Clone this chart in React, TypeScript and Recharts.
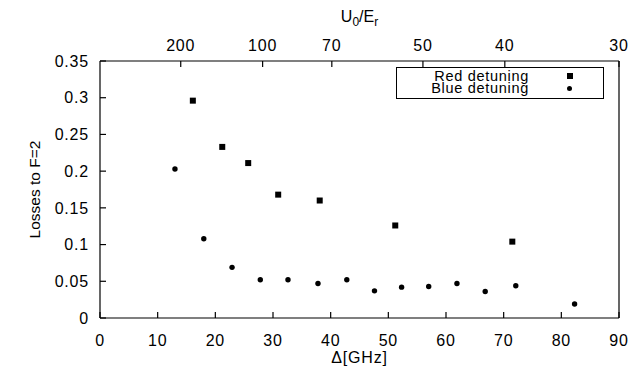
import { Label, Scatter, ScatterChart, XAxis, YAxis } from "recharts";

const redDelta = [16.1, 21.2, 25.7, 30.9, 38.1, 51.2, 71.5];
const redLoss = [0.296, 0.233, 0.211, 0.168, 0.16, 0.126, 0.104];

const blueDelta = [13.0, 18.0, 22.9, 27.8, 32.6, 37.8, 42.8, 47.6, 52.3, 57.0, 61.9, 66.8, 72.1, 82.3];
const blueLoss = [0.203, 0.108, 0.069, 0.052, 0.052, 0.047, 0.052, 0.037, 0.042, 0.043, 0.047, 0.036, 0.044, 0.019];

const xTicks = [0, 10, 20, 30, 40, 50, 60, 70, 80, 90];
const yTicks = [0, 0.05, 0.1, 0.15, 0.2, 0.25, 0.3, 0.35];
// top axis: U0/Er values placed at their detuning
const topTickDelta = [14, 28.2, 40.2, 56, 70.2, 90];
const topTickLabels = ["200", "100", "70", "50", "40", "30"];

const seriesNames = ["Red detuning", "Blue detuning"];

const red = redDelta.map((x, i) => ({ x, y: redLoss[i] }));
const blue = blueDelta.map((x, i) => ({ x, y: blueLoss[i] }));

const FONT = "'Liberation Sans', Arial, sans-serif";
const tickStyle = { fill: "#000", fontSize: 16, letterSpacing: 0.8 };

const Square = (p: any) => <rect x={p.cx - 3} y={p.cy - 3} width={6} height={6} fill="#000" />;
const Dot = (p: any) => <circle cx={p.cx} cy={p.cy} r={2.7} fill="#000" />;

export default function App() {
  return (
    <div style={{ position: "absolute", left: 0, top: 0, width: 629, height: 374, fontFamily: FONT, background: "#fff" }}>
      <ScatterChart width={629} height={374} margin={{ top: 0, right: 0, bottom: 0, left: 0 }}>
        <XAxis
          xAxisId="bottom"
          dataKey="x"
          type="number"
          domain={[0, 90]}
          ticks={xTicks}
          height={56}
          tick={tickStyle}
          tickSize={-6}
          tickMargin={23}
          stroke="#000"
          strokeWidth={1.2}
        >
          <Label
            content={({ viewBox }: any) => (
              <text x={viewBox.x + viewBox.width / 2} y={363} textAnchor="middle" fontSize={16} fill="#000" letterSpacing={0.8}>
                Δ[GHz]
              </text>
            )}
          />
        </XAxis>
        <XAxis
          xAxisId="top"
          orientation="top"
          dataKey="x"
          type="number"
          domain={[0, 90]}
          ticks={topTickDelta}
          tickFormatter={(v: number) => topTickLabels[topTickDelta.indexOf(v)]}
          height={61}
          tick={tickStyle}
          tickSize={-6}
          tickMargin={16}
          stroke="#000"
          strokeWidth={1.2}
          allowDataOverflow
        >
          <Label
            content={({ viewBox }: any) => (
              <text x={viewBox.x + viewBox.width / 2} y={22} textAnchor="middle" fontSize={16} fill="#000">
                U<tspan fontSize={12} dy={4}>0</tspan>
                <tspan dy={-4}>/E</tspan>
                <tspan fontSize={12} dy={4}>r</tspan>
              </text>
            )}
          />
        </XAxis>
        <YAxis
          yAxisId="left"
          dataKey="y"
          type="number"
          domain={[0, 0.35]}
          ticks={yTicks}
          width={100}
          tick={tickStyle}
          tickSize={-6}
          tickMargin={17}
          stroke="#000"
          strokeWidth={1.2}
        >
          <Label
            content={({ viewBox }: any) => {
              const cx = 34;
              const cy = viewBox.y + viewBox.height / 2;
              return (
                <text x={cx} y={cy} textAnchor="middle" dominantBaseline="central" fontSize={15.5} fill="#000" transform={`rotate(-90 ${cx} ${cy})`}>
                  Losses to F=2
                </text>
              );
            }}
          />
        </YAxis>
        <YAxis
          yAxisId="right"
          orientation="right"
          dataKey="y"
          type="number"
          domain={[0, 0.35]}
          ticks={yTicks}
          width={10}
          tick={false}
          tickSize={-6}
          stroke="#000"
          strokeWidth={1.2}
          allowDataOverflow
        />
        <Scatter name={seriesNames[0]} data={red} xAxisId="bottom" yAxisId="left" shape={Square} isAnimationActive={false} />
        <Scatter name={seriesNames[1]} data={blue} xAxisId="bottom" yAxisId="left" shape={Dot} isAnimationActive={false} />
      </ScatterChart>
      <div
        style={{
          position: "absolute",
          left: 396,
          top: 67,
          width: 206,
          height: 30,
          border: "1px solid #000",
          background: "#fff",
          fontSize: 14.5,
          letterSpacing: 0.7,
        }}
      >
        {seriesNames.map((n, i) => (
          <div key={n} style={{ position: "absolute", left: 0, top: 1.5 + i * 12.5, width: 206, height: 12.5, lineHeight: "12.5px" }}>
            <span style={{ position: "absolute", right: 74, top: 0 }}>{n}</span>
            {i === 0 ? (
              <span style={{ position: "absolute", left: 170, top: 3.5, width: 6, height: 6, background: "#000" }} />
            ) : (
              <span style={{ position: "absolute", left: 170, top: 3.5, width: 5, height: 5, borderRadius: 3, background: "#000" }} />
            )}
          </div>
        ))}
      </div>
    </div>
  );
}
